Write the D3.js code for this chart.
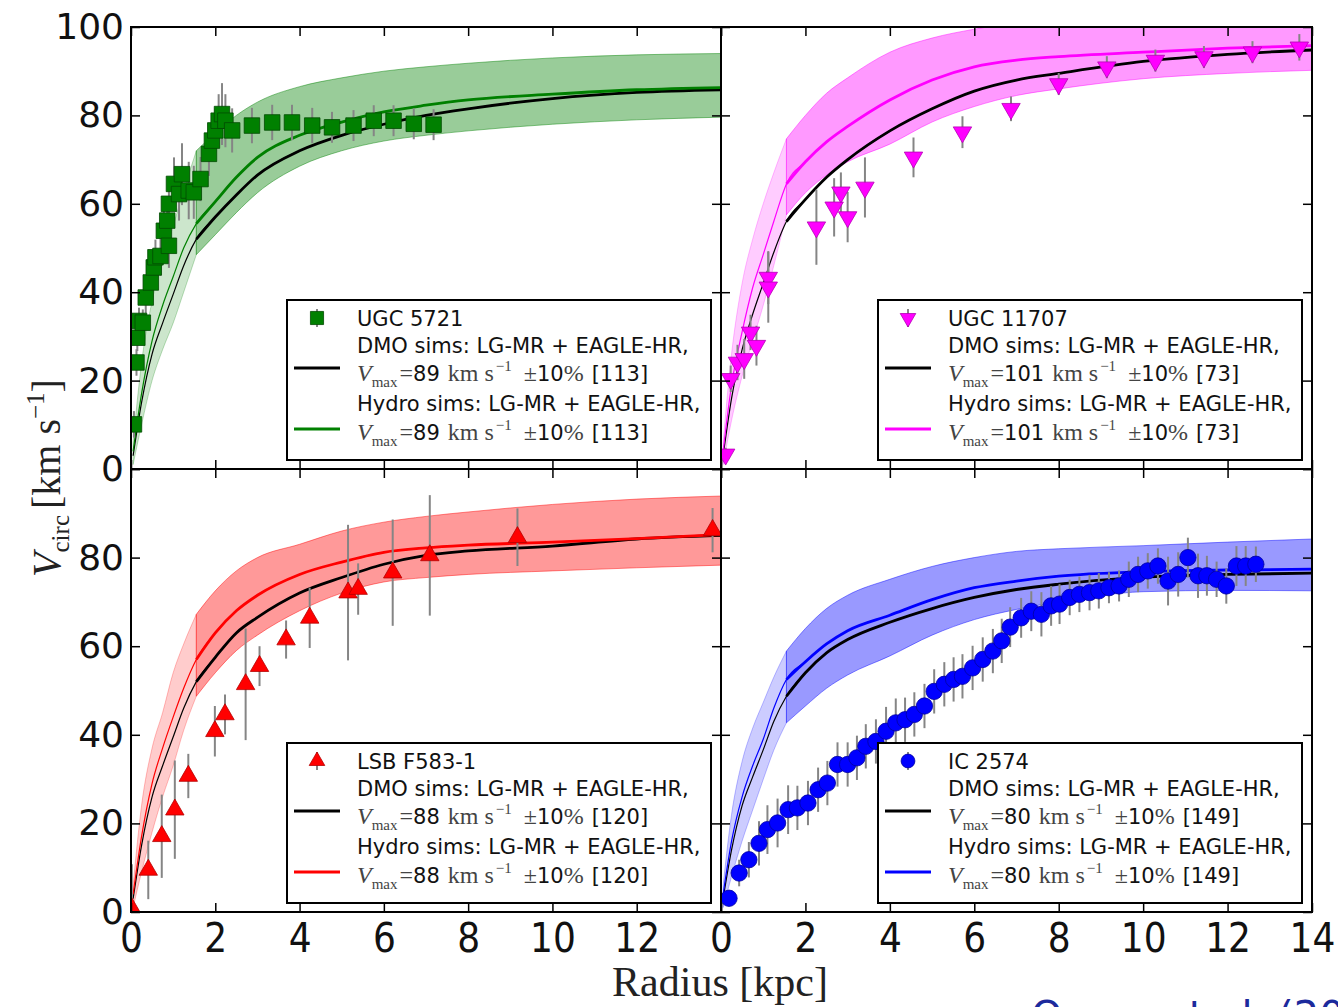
<!DOCTYPE html>
<html>
<head>
<meta charset="utf-8">
<script src="https://cdn.jsdelivr.net/npm/d3@7"></script>
<style>
  body { margin: 0; background: #fff; }
  svg { display: block; }
</style>
</head>
<body>
<div id="chart"></div>
<script>
// radius grid of the simulated rotation curves (kpc)
const modelR = [0.05, 0.25, 0.5, 0.75, 1, 1.25, 1.55, 2, 2.5, 3, 4, 5, 6, 7, 8, 10, 12, 14]
// inside this radius the sims are not converged -> lighter band / thin line
const convR = 1.55

// UGC 5721 (green)
const ugc5721Dmo   = [3, 15, 26, 33, 39.5, 46, 52, 57, 62, 66.5, 72, 75.5, 78, 80, 81.5, 83.8, 85.2, 85.8]
const ugc5721Hydro = [4, 17, 29, 37, 43.5, 50, 55.5, 60.5, 66, 70.5, 75.5, 78.5, 80.8, 82.3, 83.5, 84.8, 85.8, 86.3]
const ugc5721Lo    = [1, 10, 20, 27, 33, 40, 48.5, 53, 58, 62.5, 68.5, 72, 74.2, 75.5, 76.5, 78, 79, 79.6]
const ugc5721Hi    = [6, 24, 38, 47, 55, 63, 72, 76, 80, 83, 86.5, 88.5, 90, 91, 91.8, 93, 93.7, 94]
const ugc5721R   = [0.07, 0.13, 0.15, 0.19, 0.28, 0.35, 0.47, 0.54, 0.58, 0.70, 0.78, 0.86, 0.90, 0.90, 1.02, 1.14, 1.21, 1.37, 1.49, 1.65, 1.85, 1.92, 2.00, 2.08, 2.16, 2.24, 2.40, 2.87, 3.35, 3.82, 4.30, 4.77, 5.28, 5.76, 6.23, 6.71, 7.18]
const ugc5721V   = [10.1, 24.1, 29.7, 33.5, 33.1, 38.8, 42.2, 45.6, 47.9, 48.2, 53.9, 56.2, 50.5, 60, 64.5, 62.2, 66.7, 63, 62.6, 65.6, 71.3, 74.3, 76.6, 78.8, 80.3, 78.8, 76.6, 77.7, 78.4, 78.4, 77.7, 77.3, 77.7, 78.8, 78.8, 78.1, 77.9]
const ugc5721Err = [3, 3, 3, 3, 3, 3.5, 4, 4, 4, 4.5, 5, 5, 5, 6, 6, 6, 7, 6.5, 6, 5, 5, 4.5, 5, 6, 7, 6, 5, 4, 4, 4, 4, 3.5, 3.5, 3.5, 3.5, 3.5, 3.5]

// UGC 11707 (magenta)
const ugc11707Dmo   = [3, 16, 27, 35, 42, 49, 56, 61, 66, 70, 76.5, 81.5, 85.5, 88, 89.5, 92.2, 93.8, 94.8]
const ugc11707Hydro = [4, 19, 31, 41, 48.5, 56, 64.5, 69.5, 74, 77.5, 83.5, 88, 91, 92.5, 93.3, 94.3, 95.2, 95.8]
const ugc11707Lo    = [1, 11, 21, 29, 37, 46, 57.5, 62.5, 66.5, 69.5, 73.5, 78.5, 82, 84.5, 86, 88.3, 89.5, 90.2]
const ugc11707Hi    = [6, 26, 42, 52, 60, 67, 74.7, 80, 85, 88.5, 94.3, 97.5, 99.5, 101, 102, 103, 103.5, 104]
const ugc11707R   = [0.11, 0.23, 0.39, 0.55, 0.70, 0.84, 1.12, 1.12, 2.26, 2.68, 2.84, 3.00, 3.41, 4.56, 5.72, 6.87, 8.00, 9.14, 10.29, 11.44, 12.59, 13.70]
const ugc11707V   = [3.3, 20.4, 24.1, 24.9, 30.9, 27.9, 43.3, 41.1, 54.7, 59.2, 62.6, 57.0, 63.7, 70.5, 76.2, 81.5, 87.1, 90.9, 92.4, 93.2, 94.3, 95.4]
const ugc11707Err = [1.5, 3, 4, 4.5, 4, 4.5, 6, 8, 8.5, 6.6, 4.5, 5.7, 6.8, 4.5, 3.6, 2.8, 2.5, 2.5, 2.5, 2.5, 2.5, 3]

// LSB F583-1 (red)
const f5831Dmo   = [3, 15, 26, 33, 39.5, 46, 52, 57.5, 63, 66.5, 72, 75.5, 78.5, 80.5, 81.5, 82.6, 84.2, 85]
const f5831Hydro = [4, 17, 29, 37, 44, 50.5, 57, 63, 68, 71.5, 76.2, 79, 81.2, 82.2, 82.8, 83.5, 84.3, 85.2]
const f5831Lo    = [1, 9, 18, 26, 33, 41, 48.7, 54, 59, 62.5, 68, 72, 74.5, 75.5, 76.2, 77, 77.7, 78.3]
const f5831Hi    = [6, 24, 37, 45, 54, 60.5, 67.2, 72.5, 77, 80, 83, 86, 88, 89.3, 90.3, 92, 93.2, 93.9]
const f5831R   = [0.02, 0.41, 0.73, 1.04, 1.36, 1.99, 2.23, 2.72, 3.05, 3.68, 4.24, 5.15, 5.39, 6.21, 7.09, 9.17, 13.80]
const f5831V   = [0.8, 9.5, 17.1, 23.1, 30.7, 40.8, 44.6, 51.4, 55.5, 61.5, 66.4, 72.1, 72.9, 76.6, 80.5, 84.6, 86.2]
const f5831Err = [10, 6.6, 9.4, 11.1, 5, 5.7, 4.5, 12.6, 4.5, 4.3, 6.8, 15.3, 5.8, 12, 13.6, 6.5, 5]

// IC 2574 (blue)
const ic2574Dmo   = [3, 14, 24, 30.5, 36.6, 43, 48.7, 54, 58.5, 61.5, 65.4, 68.5, 71, 72.8, 74, 75.6, 76.2, 76.5]
const ic2574Hydro = [4, 16, 26, 33, 39, 46, 52.5, 56.5, 60.5, 63.5, 67, 70.5, 73.2, 74.7, 75.8, 76.8, 77.2, 77.4]
const ic2574Lo    = [1, 8, 16, 23, 29.9, 36.5, 42.7, 46.5, 50.5, 53.5, 57.8, 62.5, 66, 68.3, 70, 72.3, 72.6, 72.5]
const ic2574Hi    = [6, 22, 34, 41.5, 47.3, 53, 58.9, 64, 68.5, 71.5, 75.1, 78, 80, 81.4, 82, 82.7, 83.5, 84.2]
const ic2574R   = [0.19, 0.43, 0.66, 0.90, 1.10, 1.34, 1.59, 1.81, 2.06, 2.30, 2.52, 2.76, 3.00, 3.22, 3.43, 3.67, 3.91, 4.14, 4.36, 4.58, 4.82, 5.05, 5.29, 5.51, 5.72, 5.96, 6.20, 6.44, 6.65, 6.85, 7.11, 7.35, 7.59, 7.82, 8.02, 8.26, 8.49, 8.73, 8.95, 9.19, 9.43, 9.66, 9.88, 10.11, 10.35, 10.59, 10.83, 11.06, 11.30, 11.51, 11.74, 11.97, 12.21, 12.43, 12.67]
const ic2574V   = [3.1, 8.8, 11.8, 15.5, 18.6, 20.1, 23.1, 23.5, 24.6, 27.6, 29.1, 33.3, 33.3, 34.8, 37.4, 38.5, 40.8, 42.7, 43.4, 44.6, 46.5, 49.8, 51.4, 52.5, 53.2, 55.1, 57, 58.9, 61.2, 64.3, 66.4, 67.9, 67.2, 69.1, 69.5, 71, 71.7, 72.1, 72.5, 73.2, 73.6, 75.1, 76.2, 77, 78.1, 74.7, 76.2, 80, 75.9, 75.9, 75.1, 73.6, 78.1, 78.1, 78.5]
const ic2574Err = [1.5, 3, 4, 5, 5.5, 5.5, 5.5, 5, 5, 5, 5, 5, 5, 5, 5, 5, 5.5, 5.5, 5, 5, 5, 5, 5, 5, 5, 5, 5, 5, 5, 4.5, 4.5, 4.5, 5, 4.5, 4.5, 4, 4, 4, 4, 3.5, 3.5, 4, 4, 4, 4, 5.5, 5, 4.5, 5, 4.5, 4, 4, 4.5, 4.5, 4]

// legend text
const galaxyNames = ["UGC 5721", "UGC 11707", "LSB F583-1", "IC 2574"]
const galaxyVmax  = [89, 101, 88, 80]
const galaxyCount = [113, 73, 120, 149]

// axes
const xTicks = [0, 2, 4, 6, 8, 10, 12, 14]
const yTicks = [0, 20, 40, 60, 80, 100]


const sans = "'DejaVu Sans', sans-serif"
const sansNarrow = "'DejaVu Sans Condensed', 'Liberation Sans Narrow', 'DejaVu Sans', sans-serif"
const serif = "'Liberation Serif', 'DejaVu Serif', serif"

var width = 1338, height = 1007
var colX = [[131, 721], [721, 1312]]
var rowY = [[469, 27], [912, 469]]

var panels = [
    {i: 0, col: 0, row: 0, color: "#008000", edge: "#004a00", symbol: "square",
        dmo: ugc5721Dmo, hydro: ugc5721Hydro, lo: ugc5721Lo, hi: ugc5721Hi, r: ugc5721R, v: ugc5721V, e: ugc5721Err},
    {i: 1, col: 1, row: 0, color: "#ff00ff", edge: "#b400b4", symbol: "down",
        dmo: ugc11707Dmo, hydro: ugc11707Hydro, lo: ugc11707Lo, hi: ugc11707Hi, r: ugc11707R, v: ugc11707V, e: ugc11707Err},
    {i: 2, col: 0, row: 1, color: "#ff0000", edge: "#b40000", symbol: "up",
        dmo: f5831Dmo, hydro: f5831Hydro, lo: f5831Lo, hi: f5831Hi, r: f5831R, v: f5831V, e: f5831Err},
    {i: 3, col: 1, row: 1, color: "#0000ff", edge: "#0000a0", symbol: "circle",
        dmo: ic2574Dmo, hydro: ic2574Hydro, lo: ic2574Lo, hi: ic2574Hi, r: ic2574R, v: ic2574V, e: ic2574Err},
]

var svg = d3.select("#chart")
    .append("svg")
    .attr("width", width)
    .attr("height", height)
    .style("font-family", sans)

var defs = svg.append("defs")

function markerPath(kind, size) {
    if (kind === "square") return d3.symbol().type(d3.symbolSquare).size(size * 1.15)()
    if (kind === "circle") return d3.symbol().type(d3.symbolCircle).size(size)()
    return d3.symbol().type(d3.symbolTriangle).size(size * 0.7)()
}
function markerTransform(kind, px, py) {
    return "translate(" + px + "," + py + ")" + (kind === "down" ? " rotate(180)" : "")
}

panels.forEach(function (p) {
    var x = d3.scaleLinear().domain([0, 14]).range(colX[p.col])
    var y = d3.scaleLinear().domain([0, 100]).range(rowY[p.row])
    var x0 = colX[p.col][0], x1 = colX[p.col][1]
    var y0 = rowY[p.row][0], y1 = rowY[p.row][1]

    defs.append("clipPath").attr("id", "clip" + p.i)
        .append("rect").attr("x", x0).attr("y", y1).attr("width", x1 - x0).attr("height", y0 - y1)

    var plot = svg.append("g").attr("clip-path", "url(#clip" + p.i + ")")

    var pts = modelR.map(function (r, k) {
        return {r: r, dmo: p.dmo[k], hydro: p.hydro[k], lo: p.lo[k], hi: p.hi[k]}
    })
    var inner = pts.filter(function (d) { return d.r <= convR })
    var outer = pts.filter(function (d) { return d.r >= convR })

    var band = d3.area().curve(d3.curveMonotoneX)
        .x(function (d) { return x(d.r) })
        .y0(function (d) { return y(d.lo) })
        .y1(function (d) { return y(d.hi) })

    plot.append("path").datum(inner).attr("d", band)
        .attr("fill", p.color).attr("fill-opacity", 0.2)
        .attr("stroke", p.color).attr("stroke-opacity", 0.25).attr("stroke-width", 1)
    plot.append("path").datum(outer).attr("d", band)
        .attr("fill", p.color).attr("fill-opacity", 0.4)
        .attr("stroke", p.color).attr("stroke-opacity", 0.45).attr("stroke-width", 1)

    // simulation medians: thin everywhere, thick where converged
    ;[["dmo", "#000"], ["hydro", p.color]].forEach(function (s) {
        var line = d3.line().curve(d3.curveMonotoneX)
            .x(function (d) { return x(d.r) })
            .y(function (d) { return y(d[s[0]]) })
        plot.append("path").datum(pts).attr("d", line)
            .attr("fill", "none").attr("stroke", s[1]).attr("stroke-width", 1.2)
        plot.append("path").datum(outer).attr("d", line)
            .attr("fill", "none").attr("stroke", s[1]).attr("stroke-width", 2.8)
    })

    // observed rotation curve
    var obs = p.r.map(function (r, k) { return {r: r, v: p.v[k], e: p.e[k]} })
    plot.selectAll("errBars")
        .data(obs)
        .enter()
        .append("line")
        .attr("x1", function (d) { return x(d.r) })
        .attr("x2", function (d) { return x(d.r) })
        .attr("y1", function (d) { return y(d.v - d.e) })
        .attr("y2", function (d) { return y(d.v + d.e) })
        .attr("stroke", "#858585")
        .attr("stroke-width", 2)
    plot.selectAll("points")
        .data(obs)
        .enter()
        .append("path")
        .attr("d", markerPath(p.symbol, 210))
        .attr("transform", function (d) { return markerTransform(p.symbol, x(d.r), y(d.v)) })
        .attr("fill", p.color)
        .attr("stroke", p.edge)
        .attr("stroke-width", 0.8)

    // ticks on every side, pointing inwards
    var tick = function (g) {
        g.select(".domain").remove()
        g.selectAll(".tick line").attr("stroke", "#000").attr("stroke-width", 1.5)
    }
    svg.append("g").attr("transform", "translate(" + x0 + ",0)")
        .call(d3.axisLeft(y).tickValues(yTicks).tickSize(-9).tickPadding(7)
            .tickFormat(function (d) { return p.col === 0 && !(p.row === 1 && d === 100) ? d : "" }))
        .call(tick)
        .call(function (g) {
            g.selectAll("text").attr("font-size", 36).attr("font-family", sans).attr("fill", "#111")
        })
    svg.append("g").attr("transform", "translate(" + x1 + ",0)")
        .call(d3.axisRight(y).tickValues(yTicks).tickSize(-9).tickFormat(""))
        .call(tick)
    svg.append("g").attr("transform", "translate(0," + y1 + ")")
        .call(d3.axisTop(x).tickValues(xTicks).tickSize(-9).tickFormat(""))
        .call(tick)
    svg.append("g").attr("transform", "translate(0," + y0 + ")")
        .call(d3.axisBottom(x).tickValues(xTicks).tickSize(-9).tickPadding(12)
            .tickFormat(function (d) { return p.row === 1 && !(p.col === 0 && d === 14) ? d : "" }))
        .call(tick)
        .call(function (g) {
            g.selectAll("text").attr("font-size", 40).attr("font-family", sansNarrow).attr("fill", "#111")
        })

    svg.append("rect")
        .attr("x", x0).attr("y", y1).attr("width", x1 - x0).attr("height", y0 - y1)
        .attr("fill", "none").attr("stroke", "#000").attr("stroke-width", 2)

    // legend
    var bx = x1 - 434, by = y0 - 169
    var leg = svg.append("g").attr("transform", "translate(" + bx + "," + by + ")")
    leg.append("rect").attr("width", 424).attr("height", 160)
        .attr("fill", "#fff").attr("stroke", "#000").attr("stroke-width", 2)
    leg.append("line").attr("x1", 30).attr("x2", 30).attr("y1", 9).attr("y2", 27)
        .attr("stroke", "#858585").attr("stroke-width", 2)
    leg.append("path").attr("d", markerPath(p.symbol, 150))
        .attr("transform", markerTransform(p.symbol, 30, 18))
        .attr("fill", p.color).attr("stroke", p.edge).attr("stroke-width", 0.8)
    leg.append("line").attr("x1", 7).attr("x2", 53).attr("y1", 68).attr("y2", 68)
        .attr("stroke", "#000").attr("stroke-width", 3)
    leg.append("line").attr("x1", 7).attr("x2", 53).attr("y1", 129).attr("y2", 129)
        .attr("stroke", p.color).attr("stroke-width", 3)

    var rows = [galaxyNames[p.i], "DMO sims: LG-MR + EAGLE-HR,", null, "Hydro sims: LG-MR + EAGLE-HR,", null]
    var base = [26, 53, 81, 111, 140]
    rows.forEach(function (txt, k) {
        var t = leg.append("text").attr("x", 70).attr("y", base[k])
            .attr("font-size", 21).attr("fill", "#111")
        if (txt) { t.text(txt); return }
        vmaxRow(t, galaxyVmax[p.i], galaxyCount[p.i])
    })
})

function vmaxRow(t, vmax, n) {
    var grey = "#444"
    t.append("tspan").attr("font-family", serif).attr("font-style", "italic").attr("font-size", 24).attr("fill", grey).text("V")
    t.append("tspan").attr("font-family", serif).attr("font-size", 15).attr("dy", 6).attr("fill", grey).text("max")
    t.append("tspan").attr("font-family", serif).attr("font-size", 24).attr("dy", -6).attr("dx", 2).attr("fill", grey).text("=")
    t.append("tspan").attr("font-family", sans).text(vmax)
    t.append("tspan").attr("font-family", serif).attr("font-size", 24).attr("dx", 8).attr("fill", grey).text("km s")
    t.append("tspan").attr("font-family", serif).attr("font-size", 15).attr("dy", -10).attr("dx", 2).attr("fill", grey).text("\u22121")
    t.append("tspan").attr("font-family", serif).attr("font-size", 24).attr("dy", 10).attr("dx", 12).attr("fill", grey).text("\u00b1")
    t.append("tspan").attr("font-family", sans).text("10")
    t.append("tspan").attr("font-family", serif).attr("font-size", 24).attr("fill", grey).text("%")
    t.append("tspan").attr("font-family", sans).attr("dx", 8).text("[" + n + "]")
}

// axis titles
var ylab = svg.append("text")
    .attr("transform", "translate(60,478) rotate(-90)")
    .attr("text-anchor", "middle")
    .attr("font-family", serif)
    .attr("font-size", 40)
    .attr("fill", "#222")
ylab.append("tspan").attr("font-style", "italic").text("V")
ylab.append("tspan").attr("font-size", 25).attr("dy", 9).text("circ")
ylab.append("tspan").attr("dy", -9).attr("dx", 6).text("[km s")
ylab.append("tspan").attr("font-size", 25).attr("dy", -16).text("\u22121")
ylab.append("tspan").attr("dy", 16).text("]")

svg.append("text")
    .attr("x", 720).attr("y", 996)
    .attr("text-anchor", "middle")
    .attr("font-family", serif)
    .attr("font-size", 42)
    .attr("fill", "#222")
    .text("Radius [kpc]")

// citation, cut off by the bottom of the picture
svg.append("text")
    .attr("x", 1031).attr("y", 1030)
    .attr("font-family", sans)
    .attr("font-size", 40)
    .attr("fill", "#1c2a9c")
    .text("Oman et al. (2015)")
</script>
</body>
</html>
